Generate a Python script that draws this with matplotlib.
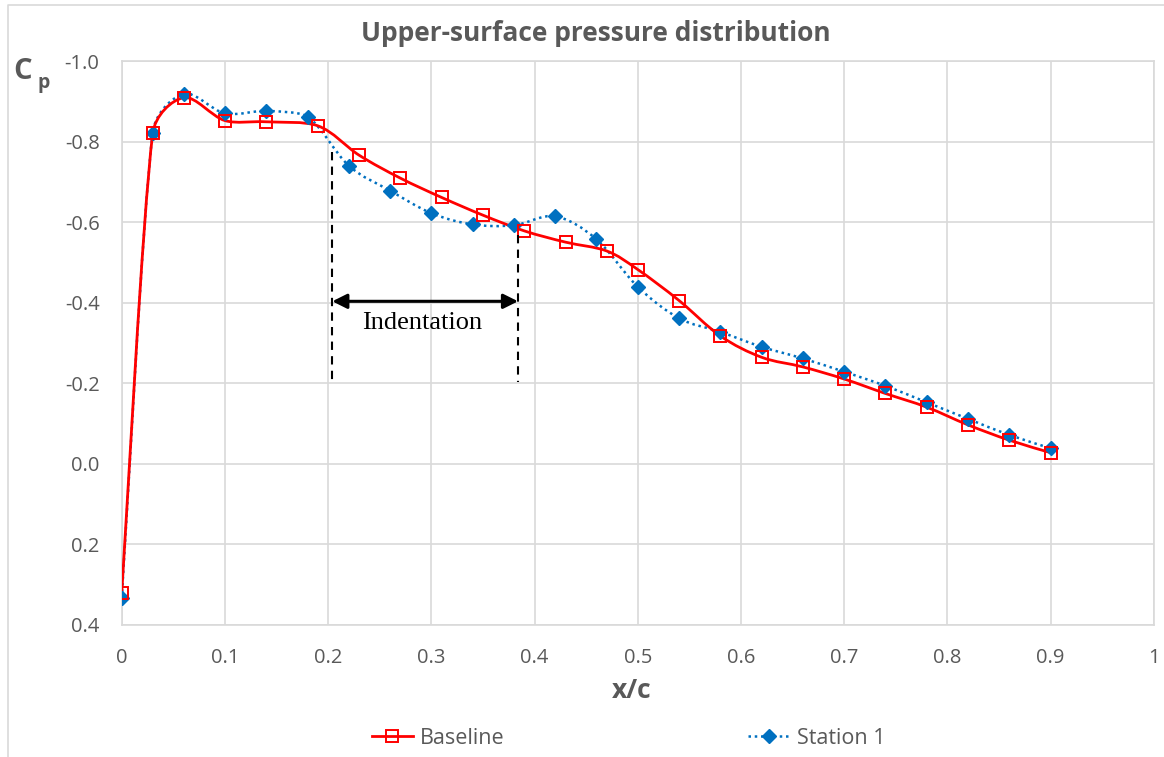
import matplotlib
matplotlib.use("Agg")
import matplotlib.pyplot as plt
import numpy as np
from matplotlib.lines import Line2D
from matplotlib.patches import PathPatch
from matplotlib.path import Path

# data (Cp, upper surface)
base_x = [0.0, 0.03, 0.06, 0.10, 0.14, 0.19, 0.23, 0.27, 0.31, 0.35, 0.39, 0.43, 0.47,
          0.50, 0.54, 0.58, 0.62, 0.66, 0.70, 0.74, 0.78, 0.82, 0.86, 0.90]
base_cp = [0.321, -0.820, -0.909, -0.852, -0.849, -0.839, -0.766, -0.709, -0.661, -0.617,
           -0.578, -0.550, -0.528, -0.482, -0.405, -0.317, -0.264, -0.240, -0.210, -0.174,
           -0.140, -0.096, -0.058, -0.027]
stat_x = [0.0, 0.03, 0.06, 0.10, 0.14, 0.18, 0.22, 0.26, 0.30, 0.34, 0.38, 0.42, 0.46,
          0.50, 0.54, 0.58, 0.62, 0.66, 0.70, 0.74, 0.78, 0.82, 0.86, 0.90]
stat_cp = [0.334, -0.822, -0.918, -0.870, -0.876, -0.862, -0.740, -0.678, -0.622, -0.594,
           -0.592, -0.614, -0.557, -0.439, -0.361, -0.327, -0.290, -0.261, -0.228, -0.193,
           -0.152, -0.111, -0.071, -0.038]
x_ticks = [0, 0.1, 0.2, 0.3, 0.4, 0.5, 0.6, 0.7, 0.8, 0.9, 1]
x_labels = ["0", "0.1", "0.2", "0.3", "0.4", "0.5", "0.6", "0.7", "0.8", "0.9", "1"]
y_ticks = [-1.0, -0.8, -0.6, -0.4, -0.2, 0.0, 0.2, 0.4]
y_labels = ["-1.0", "-0.8", "-0.6", "-0.4", "-0.2", "0.0", "0.2", "0.4"]
indent_x = [0.204, 0.384]

RED = "#FF0000"
BLUE = "#0070C0"
GREY = "#595959"
GRID = "#D9D9D9"
FONT = ["Open Sans", "DejaVu Sans"]

plt.rcParams["font.family"] = FONT

# rough pixel scale of the axes, so the smoothing behaves like it does on screen
SX, SY = 1032.0, 2012.0


def smooth_path(x, y):
    """Excel-like smoothed line: Catmull-Rom Bezier arms (1/6), capped at half a segment."""
    p = np.column_stack([np.asarray(x, float) * SX, np.asarray(y, float) * SY])
    n = len(p)
    verts = [tuple(p[0])]
    codes = [Path.MOVETO]
    for i in range(n - 1):
        seg = np.hypot(*(p[i + 1] - p[i]))
        a1 = (p[i + 1] - p[max(i - 1, 0)]) / 6
        a2 = (p[min(i + 2, n - 1)] - p[i]) / 6
        for a in (a1, a2):
            ln = np.hypot(*a)
            if ln > seg / 2:
                a *= (seg / 2) / ln
        verts += [tuple(p[i] + a1), tuple(p[i + 1] - a2), tuple(p[i + 1])]
        codes += [Path.CURVE4] * 3
    verts = np.array(verts) / [SX, SY]
    return Path(verts, codes)


fig = plt.figure(figsize=(11.64, 7.57), dpi=100)
ax = fig.add_axes([0.1046, 0.175, 0.8866, 0.7444])

ax.add_patch(PathPatch(smooth_path(stat_x, stat_cp), fill=False, edgecolor=BLUE,
                       lw=1.8, ls=(0, (1, 1.5)), zorder=3))
ax.add_patch(PathPatch(smooth_path(base_x, base_cp), fill=False, edgecolor=RED,
                       lw=2.0, zorder=4))
ax.plot(stat_x, stat_cp, ls="none", marker="D", ms=7.5, color=BLUE, zorder=5)
ax.plot(base_x, base_cp, ls="none", marker="s", ms=9, mfc="none", mec=RED, mew=1.4, zorder=6)

ax.set_xlim(0, 1)
ax.set_ylim(0.4, -1.0)
ax.set_xticks(x_ticks, x_labels)
ax.set_yticks(y_ticks, y_labels)
ax.tick_params(length=0, labelsize=14.5, labelcolor=GREY)
ax.tick_params(axis="x", pad=17)
ax.tick_params(axis="y", pad=16)
ax.grid(True, color=GRID, lw=1.2)
ax.set_axisbelow(True)
for sp in ax.spines.values():
    sp.set_color(GRID)
    sp.set_linewidth(1.2)

# indentation annotation
ax.plot([indent_x[0]] * 2, [-0.775, -0.203], color="black", lw=1.5, ls=(0, (4, 3)), zorder=7)
ax.plot([indent_x[1]] * 2, [-0.568, -0.203], color="black", lw=1.5, ls=(0, (4, 3)), zorder=7)
ax.annotate("", xy=(indent_x[0], -0.403), xytext=(indent_x[1], -0.403),
            arrowprops=dict(arrowstyle="<|-|>", color="black", lw=2.2,
                            mutation_scale=22, shrinkA=0, shrinkB=0), zorder=7)
ax.text(sum(indent_x) / 2 - 0.003, -0.35, "Indentation", ha="center", va="center",
        fontsize=19, family=["Liberation Serif", "DejaVu Serif"], color="black")

fig.text(0.512, 0.956, "Upper-surface pressure distribution", ha="center", va="center",
         fontsize=19, fontweight="bold", color=GREY)
fig.text(0.543, 0.088, "x/c", ha="center", va="center", fontsize=19,
         fontweight="bold", color=GREY)
fig.text(0.011, 0.906, "C", ha="left", va="center", fontsize=21,
         fontweight="bold", color=GREY)
fig.text(0.032, 0.891, "p", ha="left", va="center", fontsize=14,
         fontweight="bold", color=GREY)

handles = [
    Line2D([], [], color=RED, lw=2, marker="s", ms=8, mfc="none", mec=RED, mew=1.4),
    Line2D([], [], color=BLUE, lw=1.8, ls=(0, (1, 1.5)), marker="D", ms=7),
]
fig.legend(handles, ["Baseline", "Station 1"], loc="center", bbox_to_anchor=(0.54, 0.025),
           ncol=2, frameon=False, fontsize=15.5, labelcolor=GREY, handlelength=1.9,
           columnspacing=11.3, handletextpad=0.35)

# outer chart border (left and top edges visible in the crop)
fig.add_artist(Line2D([0.0065, 0.0065, 1.0], [0.0, 0.9934, 0.9934],
                      transform=fig.transFigure, color=GRID, lw=1.2))

fig.savefig("out.png", dpi=100)
